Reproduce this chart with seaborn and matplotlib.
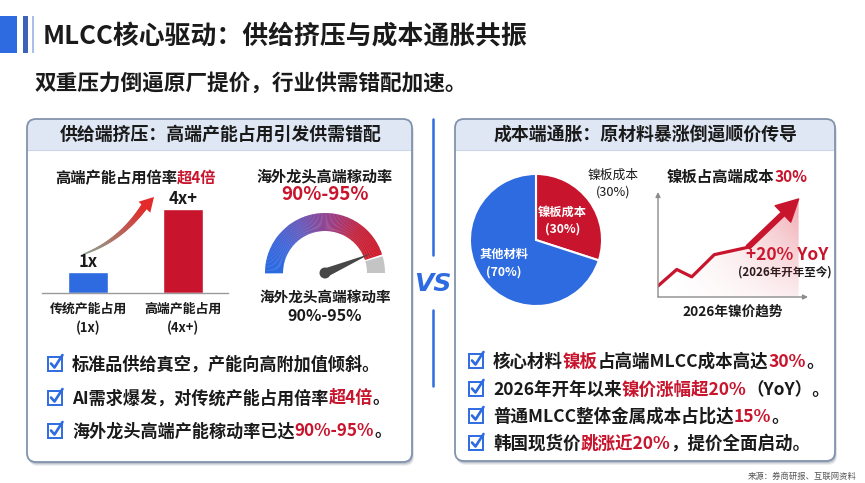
import numpy as np
import pandas as pd
import matplotlib
matplotlib.use("Agg")
import matplotlib.pyplot as plt
import seaborn as sns
from matplotlib.patches import FancyBboxPatch, Rectangle, Wedge, Polygon, Circle
from matplotlib.collections import LineCollection
from matplotlib.colors import LinearSegmentedColormap, to_rgb

# ---------------- data ----------------
title_text = "MLCC核心驱动：供给挤压与成本通胀共振"
subtitle_text = "双重压力倒逼原厂提价，行业供需错配加速。"
left_header = "供给端挤压：高端产能占用引发供需错配"
right_header = "成本端通胀：原材料暴涨倒逼顺价传导"

bar_title = [("高端产能占用倍率", "k"), ("超4倍", "r")]
bar_categories = ["传统产能占用\n(1x)", "高端产能占用\n(4x+)"]
bar_values = [1, 4]
bar_value_labels = ["1x", "4x+"]

gauge_title = "海外龙头高端稼动率"
gauge_range_label = "90%-95%"
gauge_value = 0.90

pie_labels = ["镍板成本", "其他材料"]
pie_values = [30, 70]

line_title = [("镍板占高端成本", "k"), ("30%", "r")]
nickel_weeks = [0, 2, 3.6, 6, 9.6, 15]
nickel_index = [100, 103.8, 102.1, 107.2, 108.9, 120]
nickel_yoy_label = "+20% YoY"
nickel_yoy_note = "(2026年开年至今)"
nickel_xlabel = "2026年镍价趋势"

left_points = [
    [("标准品供给真空，产能向高附加值倾斜。", "k")],
    [("AI需求爆发，对传统产能占用倍率", "k"), ("超4倍", "r"), ("。", "k")],
    [("海外龙头高端产能稼动率已达", "k"), ("90%-95%", "r"), ("。", "k")],
]
right_points = [
    [("核心材料", "k"), ("镍板", "r"), ("占高端MLCC成本高达", "k"), ("30%", "r"), ("。", "k")],
    [("2026年开年以来", "k"), ("镍价涨幅超20%", "r"), ("（YoY）。", "k")],
    [("普通MLCC整体金属成本占比达", "k"), ("15%", "r"), ("。", "k")],
    [("韩国现货价", "k"), ("跳涨近20%", "r"), ("，提价全面启动。", "k")],
]
source_text = "来源：券商研报、互联网资料"

# ---------------- style ----------------
BLUE = "#2e6be0"
RED = "#c8152d"
DARK = "#1a1a1a"
CMAP = {"k": DARK, "r": RED}
FAM = ["Noto Sans CJK SC", "DejaVu Sans"]

sns.set_theme(style="white")
plt.rcParams["font.family"] = FAM
plt.rcParams["axes.unicode_minus"] = False

W, H = 865, 483
fig = plt.figure(figsize=(W / 100, H / 100), dpi=100)
fig.patch.set_facecolor("white")
bg = fig.add_axes([0, 0, 1, 1])
bg.set_xlim(0, W)
bg.set_ylim(H, 0)
bg.axis("off")
renderer = fig.canvas.get_renderer()


def px_rect(x0, y0, x1, y1):
    return [x0 / W, 1 - y1 / H, (x1 - x0) / W, (y1 - y0) / H]


def rich(x, y, parts, size, weight="bold", ha="left"):
    em = size * 100 / 72
    base = y + 0.38 * em
    cur = x
    texts = []
    for s, c in parts:
        t = bg.text(cur, base, s, color=CMAP.get(c, c), fontsize=size,
                    fontweight=weight, ha="left", va="baseline")
        bb = t.get_window_extent(renderer=renderer)
        cur += bb.width
        texts.append(t)
    if ha == "center":
        w = cur - x
        for t in texts:
            px, py = t.get_position()
            t.set_position((px - w / 2, py))


def panel(x0, y0, x1, y1):
    w, h = x1 - x0, y1 - y0
    for off, a in [(4, 0.10), (3, 0.15), (2, 0.22)]:
        bg.add_patch(FancyBboxPatch((x0 + off * 0.5, y0 + off), w, h,
                                    boxstyle="round,pad=0,rounding_size=9",
                                    fc="#5d6b80", ec="none", alpha=a, zorder=1))
    bg.add_patch(FancyBboxPatch((x0, y0), w, h, boxstyle="round,pad=0,rounding_size=9",
                                fc="white", ec="none", zorder=2))
    bg.add_patch(FancyBboxPatch((x0, y0), w, 31, boxstyle="round,pad=0,rounding_size=9",
                                fc="#dfe7f4", ec="none", zorder=3))
    bg.add_patch(Rectangle((x0, y0 + 15), w, 16, fc="#dfe7f4", ec="none", zorder=3))
    bg.plot([x0, x1], [y0 + 31, y0 + 31], color="#cbd6ea", lw=0.8, zorder=4)
    bg.add_patch(FancyBboxPatch((x0, y0), w, h, boxstyle="round,pad=0,rounding_size=9",
                                fc="none", ec="#8193ad", lw=1.3, zorder=5))


def check_icon(cx, cy):
    bg.add_patch(Rectangle((cx - 7, cy - 6.5), 14, 14, fill=False, ec=BLUE, lw=1.4, zorder=6))
    bg.plot([cx - 4, cx - 0.5, cx + 7.5], [cy + 0.5, cy + 4.5, cy - 8], color=BLUE,
            lw=1.9, solid_capstyle="round", zorder=7)


# ---------------- title area ----------------
bg.add_patch(Rectangle((0, 16), 17, 37, fc=BLUE, ec="none"))
bg.add_patch(Rectangle((23, 16), 5, 37, fc="#3d63b8", ec="none"))
bg.add_patch(Rectangle((32, 16), 2, 37, fc="#a9c0ec", ec="none"))
bg.text(43, 37, title_text, fontsize=18.6, fontweight="bold", color=DARK, va="center")
bg.text(35, 83, subtitle_text, fontsize=15.6, fontweight="bold", color=DARK, va="center")

# ---------------- panels ----------------
panel(27, 119, 412, 462)
panel(455, 119, 835, 461)
bg.text(221, 135, left_header, fontsize=12.9, fontweight="bold", color=DARK,
        ha="center", va="center", zorder=6)
bg.text(645, 135, right_header, fontsize=12.9, fontweight="bold", color=DARK,
        ha="center", va="center", zorder=6)

# divider + VS
bg.plot([433, 433], [119, 255], color=BLUE, lw=1.8)
bg.plot([433, 433], [310, 386], color=BLUE, lw=1.8)
bg.text(433, 284, "VS", fontsize=18, fontweight="bold", fontstyle="italic",
        color=BLUE, family="DejaVu Sans", ha="center", va="center")

# ---------------- left: bar chart ----------------
rich(136, 177, bar_title, 11, ha="center")
axb = fig.add_axes(px_rect(42, 180, 228, 293))
axb.patch.set_alpha(0)
df_bar = pd.DataFrame({"cat": bar_categories, "val": bar_values})
sns.barplot(data=df_bar, x="cat", y="val", hue="cat", palette=[BLUE, RED],
            width=0.42, saturation=1, legend=False, ax=axb)
axb.set_xlim(-0.49, 1.48)
axb.set_ylim(0, 5.38)
for s in ["top", "right", "left"]:
    axb.spines[s].set_visible(False)
axb.spines["bottom"].set_color("#9a9a9a")
axb.spines["bottom"].set_linewidth(1)
axb.set_yticks([])
axb.set_xlabel("")
axb.set_ylabel("")
axb.tick_params(axis="x", length=0, pad=6, labelsize=9.3, labelcolor=DARK)
for lbl in axb.get_xticklabels():
    lbl.set_fontweight("bold")
    lbl.set_linespacing(1.45)
for i, (v, lab) in enumerate(zip(bar_values, bar_value_labels)):
    axb.annotate(lab, (i, v), xytext=(0, 7.5), textcoords="offset points",
                 ha="center", va="center", fontsize=12, fontweight="bold", color=DARK)

# gradient swoosh arrow
t = np.linspace(0, 1, 60)
P0, P1, P2 = np.array([84, 254]), np.array([122, 240]), np.array([146, 204])
pts = ((1 - t) ** 2)[:, None] * P0 + (2 * (1 - t) * t)[:, None] * P1 + (t ** 2)[:, None] * P2
segs = np.stack([pts[:-1], pts[1:]], axis=1)
c0, c1 = np.array(to_rgb("#8fa08e")), np.array(to_rgb("#e42a2a"))
cols = [tuple(c0 + (c1 - c0) * (k / (len(segs) - 1)) ** 1.2) for k in range(len(segs))]
lws = np.linspace(1.0, 5.0, len(segs))
bg.add_collection(LineCollection(segs, colors=cols, linewidths=lws, capstyle="round", zorder=6))
tip = np.array([154, 197])
d = tip - pts[-6]
d = d / np.linalg.norm(d)
nrm = np.array([-d[1], d[0]])
basec = tip - d * 14
bg.add_patch(Polygon([tip, basec + nrm * 8, basec - nrm * 8], closed=True, fc="#e42a2a",
                     ec="none", zorder=7))

# ---------------- left: gauge ----------------
bg.text(325, 176, gauge_title, fontsize=10.9, fontweight="bold", color=DARK, ha="center", va="center")
bg.text(325, 195, gauge_range_label, fontsize=13.5, fontweight="bold", color=RED, ha="center", va="center")
axg = fig.add_axes(px_rect(260, 208, 390, 283))
axg.set_xlim(-65, 65)
axg.set_ylim(-10, 65)
axg.axis("off")
R_out, R_in = 60, 42
theta_end = 180 * (1 - gauge_value)
gcmap = LinearSegmentedColormap.from_list(
    "g", ["#2a6ae2", "#3f67da", "#6a5ab8", "#9a4088", "#c4263e", "#cf1d2c"])
N = 120
th = np.linspace(180, theta_end, N + 1)
for i in range(N):
    a0, a1 = th[i + 1], th[i]
    axg.add_patch(Wedge((0, 0), R_out, a0, a1 + 0.4, width=R_out - R_in,
                        fc=gcmap(i / (N - 1)), ec="none"))
axg.add_patch(Wedge((0, 0), R_out, 0, theta_end - 1.8, width=R_out - R_in, fc="#c4c4c4", ec="none"))
ang = np.deg2rad(theta_end + 5)
dvec = np.array([np.cos(ang), np.sin(ang)])
nvec = np.array([-dvec[1], dvec[0]])
axg.add_patch(Polygon([dvec * 50, nvec * 4.5, -dvec * 2, -nvec * 4.5], closed=True,
                      fc="#474747", ec="none"))
axg.add_patch(Circle((0, 0), 5.5, fc="#474747", ec="none"))
bg.text(325, 297, gauge_title, fontsize=10.5, fontweight="bold", color=DARK, ha="center", va="center")
bg.text(325, 316, gauge_range_label, fontsize=11.5, fontweight="bold", color=DARK, ha="center", va="center")

# ---------------- right: pie ----------------
axp = fig.add_axes(px_rect(466, 170, 606, 310))
wedges, _ = axp.pie(pie_values, colors=[RED, BLUE], startangle=90, counterclock=False,
                    wedgeprops=dict(edgecolor="white", linewidth=1.5))
axp.set_xlim(-1.06, 1.06)
axp.set_ylim(-1.06, 1.06)
axp.set_aspect("equal")
for w, lab, val, dist in zip(wedges, pie_labels, pie_values, [0.5, 0.6]):
    mid = np.deg2rad((w.theta1 + w.theta2) / 2)
    axp.text(dist * np.cos(mid), dist * np.sin(mid), f"{lab}\n({val}%)", ha="center",
             va="center", color="white", fontsize=8.8, fontweight="bold", linespacing=1.45)
bg.text(613, 184, f"{pie_labels[0]}\n({pie_values[0]}%)", fontsize=9.2, color=DARK,
        ha="center", va="center", linespacing=1.4)

# ---------------- right: nickel line ----------------
rich(737, 176, line_title, 11.1, ha="center")
axl = fig.add_axes(px_rect(658, 192, 808, 297))
axl.patch.set_alpha(0)
ymin, ymax = 97.47, 121.6
xs = np.linspace(0, 16, 200)
ys = np.linspace(ymin, ymax, 200)
XX, YY = np.meshgrid(xs, ys)
xr = np.clip(XX / 15, 0, 1)
yr = (YY - ymin) / (ymax - ymin)
img = np.zeros((200, 200, 4))
img[..., :3] = to_rgb("#d9283a")
img[..., 3] = 0.42 * xr ** 1.6 * (0.2 + 0.8 * yr)
verts = [(nickel_weeks[0], ymin)] + list(zip(nickel_weeks, nickel_index)) + [(nickel_weeks[-1], ymin)]
clip_poly = Polygon(verts, closed=True, fc="none", ec="none", transform=axl.transData)
axl.add_patch(clip_poly)
im = axl.imshow(img, extent=(0, 16, ymin, ymax), origin="lower", aspect="auto", zorder=1)
im.set_clip_path(clip_poly)
sns.lineplot(x=nickel_weeks[:-1], y=nickel_index[:-1], color=RED, lw=2.3, ax=axl, zorder=3)
axl.annotate("", xy=(nickel_weeks[-1], nickel_index[-1]),
             xytext=(nickel_weeks[-2], nickel_index[-2]),
             arrowprops=dict(arrowstyle="simple,head_length=1.2,head_width=1.25,tail_width=0.26",
                             fc=RED, ec=RED, mutation_scale=13, shrinkA=0, shrinkB=0), zorder=4)
axl.set_xlim(0, 16)
axl.set_ylim(ymin, ymax)
for s in axl.spines.values():
    s.set_visible(False)
axl.set_xticks([])
axl.set_yticks([])
axl.annotate("", xy=(0, 1), xytext=(0, 0), xycoords="axes fraction",
             arrowprops=dict(arrowstyle="-|>", color="#8c8c8c", lw=1, mutation_scale=7,
                             shrinkA=0, shrinkB=0), annotation_clip=False)
axl.annotate("", xy=(1, 0), xytext=(0, 0), xycoords="axes fraction",
             arrowprops=dict(arrowstyle="-|>", color="#8c8c8c", lw=1, mutation_scale=7,
                             shrinkA=0, shrinkB=0), annotation_clip=False)
bg.text(787, 255, nickel_yoy_label, fontsize=12.5, fontweight="bold", color=RED, ha="center", va="center")
bg.text(785, 272, nickel_yoy_note, fontsize=8.3, fontweight="bold", color=DARK, ha="center", va="center")
bg.text(733, 312, nickel_xlabel, fontsize=9.8, fontweight="bold", color=DARK, ha="center", va="center")

# ---------------- bullet points ----------------
for yc, parts in zip([363, 397, 430], left_points):
    check_icon(55, yc)
    rich(72, yc, parts, 12.3, weight="bold")
for yc, parts in zip([360, 388, 415, 442], right_points):
    check_icon(476, yc)
    rich(493, yc, parts, 12.6, weight="bold")

bg.text(857, 476, source_text, fontsize=6, color="#555555", ha="right", va="center")

fig.savefig("out.png", dpi=100)
